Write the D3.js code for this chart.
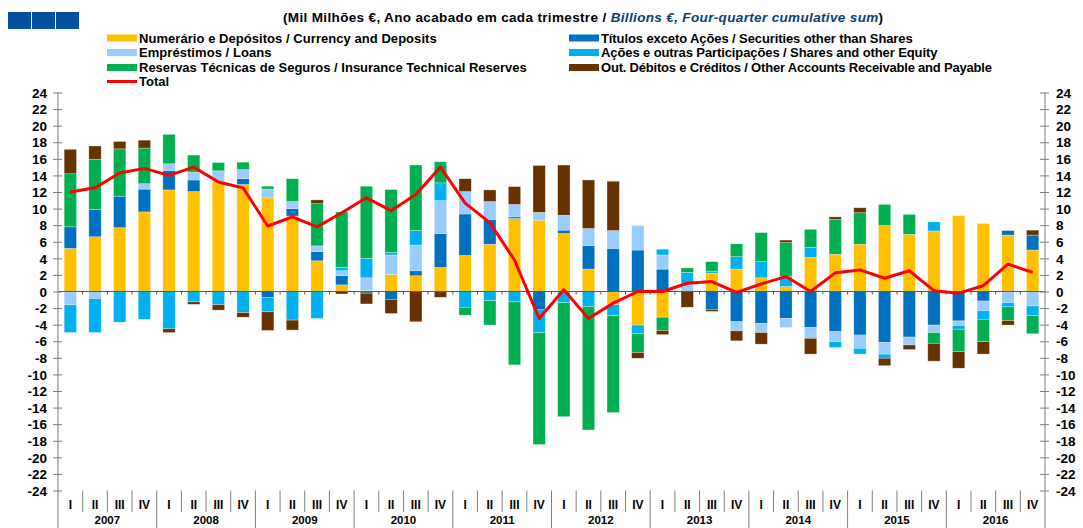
<!DOCTYPE html>
<html>
<head>
<meta charset="utf-8">
<script src="https://cdn.jsdelivr.net/npm/d3@7"></script>
<style>
    body { margin: 0; background: #fff; }
    svg { display: block; font-family: 'Liberation Sans', Arial, sans-serif; font-weight: bold; }
</style>
</head>
<body>
<div id="chart"></div>
<script>
/*global d3*/
(function () {
    'use strict';

    // data, billions of euro, four-quarter cumulative sum
    var years = ['2007', '2008', '2009', '2010', '2011', '2012', '2013', '2014', '2015', '2016'],
        quarterNames = ['I', 'II', 'III', 'IV'],

        currency = [5.2, 6.6, 7.7, 9.6, 12.25, 12.05, 13.25, 12.9, 11.3, 9.1, 3.7, 0.8,
            0.15, 2.05, 1.9, 2.9, 4.35, 5.7, 8.8, 8.6, 7.0, 2.7, -1.6, -4.05,
            -3.1, 0, 2.2, 2.7, 1.65, 0.6, 4.1, 4.5, 5.7, 7.95, 6.9, 7.3, 9.15, 8.2, 6.8, 5.0],
        securities = [2.6, 3.3, 3.8, 2.75, 2.35, 1.4, 0, 0.7, -0.7, 0.9, 1.1, 1.1,
            -0.2, -0.95, 0.6, 4.1, 5.0, 3.0, 0.2, -2.2, 0.4, 2.85, 5.2, 5.0,
            2.7, 0, -2.15, -3.65, -3.85, -3.25, -4.35, -4.85, -5.25, -6.15, -5.5, -4.05, -3.55, -1.15, 0.55, 1.8],
        loans = [-1.6, -0.85, 0, 0.65, 0.8, 0.95, 1.3, 1.1, 1.05, 0.85, 0.7, 0.6,
            1.5, 2.35, 3.1, 3.95, 2.7, 2.15, 1.5, 0.95, 1.8, 2.05, 2.15, 2.95,
            1.7, 1.0, 0, -1.1, -1.1, -1.1, -1.3, -1.2, -1.6, -1.4, -0.95, -0.9, -0.55, -1.15, -1.35, -1.75],
        shares = [-3.35, -4.1, -3.7, -3.35, -4.5, -1.25, -1.6, -2.55, -1.75, -3.45, -3.25, 0.4,
            2.35, 0.3, 1.75, 2.15, -1.9, -1.1, -1.25, -2.75, -1.35, -1.8, -1.3, -1.05,
            0.7, 1.3, 0.25, 1.5, 1.95, 1.2, 1.2, -0.7, -0.7, -0.5, 0, 1.1, -0.45, -1.05, -0.5, -1.15],
        insurance = [6.4, 6.05, 5.7, 4.3, 3.55, 2.05, 1.0, 0.9, 0.35, 2.75, 5.1, 6.7,
            8.7, 7.6, 7.9, 2.55, -0.95, -2.95, -7.6, -13.5, -13.75, -14.9, -11.7, -2.25,
            -1.6, 0.55, 1.15, 1.55, 3.5, 4.1, 2.2, 4.2, 3.8, 2.55, 2.4, -1.3, -2.7, -2.7, -1.65, -2.2],
        otherAccounts = [2.95, 1.6, 0.9, 0.95, -0.45, -0.3, -0.65, -0.55, -2.25, -1.2, 0.45, -0.3,
            -1.3, -1.7, -3.65, -0.7, 1.55, 1.4, 2.15, 5.65, 6.05, 5.85, 5.95, -0.7,
            -0.5, -1.9, -0.25, -1.2, -1.4, 0.3, -1.9, 0.3, 0.6, -0.9, -0.55, -2.15, -2.0, -1.5, -0.55, 0.6],
        total = [12.0, 12.5, 14.3, 14.85, 14.0, 15.0, 13.2, 12.5, 7.9, 9.0, 7.8, 9.5,
            11.3, 9.75, 11.7, 15.0, 10.65, 8.3, 3.8, -3.25, 0.2, -3.25, -1.4, 0.0,
            0.0, 1.0, 1.2, -0.1, 0.9, 1.8, 0.0, 2.25, 2.6, 1.6, 2.5, 0.1, -0.2, 0.7, 3.3, 2.3],
        yTicks = d3.range(-24, 25, 2),

        seriesInfo = [
            {key: 'currency', values: currency, color: '#FFC000', label: 'Numerário e Depósitos / Currency and Deposits'},
            {key: 'securities', values: securities, color: '#0070C0', label: 'Títulos exceto Ações / Securities other than Shares'},
            {key: 'loans', values: loans, color: '#99CCFF', label: 'Empréstimos / Loans'},
            {key: 'shares', values: shares, color: '#00B0F0', label: 'Ações e outras Participações / Shares and other Equity'},
            {key: 'insurance', values: insurance, color: '#00B050', label: 'Reservas Técnicas de Seguros / Insurance Technical Reserves'},
            {key: 'other', values: otherAccounts, color: '#663300', label: 'Out. Débitos e Créditos / Other Accounts Receivable and Payable'}
        ],

        width = 1083,
        height = 528,
        left = 58,
        right = 1045,
        top = 92.5,
        bottom = 490.5,
        axisColor = '#7f7f7f',

        quarters = [],
        rows,
        stack,
        stacked,
        x,
        y,
        svg,
        legendItems,
        title;

    years.forEach(function (yr) {
        quarterNames.forEach(function (q) {
            quarters.push(yr + ' ' + q);
        });
    });

    rows = quarters.map(function (q, i) {
        var row = {quarter: q};
        seriesInfo.forEach(function (s) {
            row[s.key] = s.values[i];
        });
        return row;
    });

    stack = d3.stack()
        .keys(seriesInfo.map(function (s) { return s.key; }))
        .order(d3.stackOrderNone)
        .offset(d3.stackOffsetDiverging);
    stacked = stack(rows);

    x = d3.scaleBand()
        .domain(quarters)
        .range([left, right])
        .paddingInner(0.5)
        .paddingOuter(0.25);

    y = d3.scaleLinear()
        .domain([-24, 24])
        .range([bottom, top]);

    svg = d3.select('#chart')
        .append('svg')
        .attr('width', width)
        .attr('height', height);

    // logo squares
    svg.selectAll('rect.logo')
        .data([0, 1, 2])
        .enter()
        .append('rect')
        .attr('class', 'logo')
        .attr('x', function (d) { return 8 + d * 24; })
        .attr('y', 12)
        .attr('width', 23)
        .attr('height', 17)
        .style('fill', '#00529C');

    // title
    title = svg.append('text')
        .attr('x', 283)
        .attr('y', 22)
        .style('font-size', '13.5px')
        .style('letter-spacing', '0.35px');
    title.append('tspan')
        .text('(Mil Milhões €, Ano acabado em cada trimestre / ');
    title.append('tspan')
        .style('font-style', 'italic')
        .style('fill', '#0b3d78')
        .text('Billions  €, Four-quarter cumulative sum');
    title.append('tspan')
        .text(')');

    // legend
    legendItems = [
        {s: seriesInfo[0], x: 107, y: 38, ls: '0.05px'},
        {s: seriesInfo[2], x: 107, y: 52.5, ls: '0.05px'},
        {s: seriesInfo[4], x: 107, y: 67.5, ls: '0px'},
        {s: seriesInfo[1], x: 569, y: 38, ls: '-0.1px'},
        {s: seriesInfo[3], x: 569, y: 52.5, ls: '-0.1px'},
        {s: seriesInfo[5], x: 569, y: 67.5, ls: '-0.2px'}
    ];
    legendItems.forEach(function (item) {
        svg.append('rect')
            .attr('x', item.x)
            .attr('y', item.y - 3.5)
            .attr('width', 30)
            .attr('height', 7)
            .style('fill', item.s.color);
        svg.append('text')
            .attr('x', item.x + 32)
            .attr('y', item.y + 4.5)
            .style('font-size', '13px')
            .style('letter-spacing', item.ls)
            .text(item.s.label);
    });
    svg.append('line')
        .attr('x1', 107)
        .attr('x2', 137)
        .attr('y1', 81.5)
        .attr('y2', 81.5)
        .style('stroke', '#FF0000')
        .style('stroke-width', '3px');
    svg.append('text')
        .attr('x', 139)
        .attr('y', 86)
        .style('font-size', '13px')
        .text('Total');

    // bars
    svg.append('g')
        .selectAll('g')
        .data(stacked)
        .enter()
        .append('g')
        .style('fill', function (d, i) { return seriesInfo[i].color; })
        .selectAll('rect')
        .data(function (d) { return d; })
        .enter()
        .append('rect')
        .attr('x', function (d) { return x(d.data.quarter); })
        .attr('width', x.bandwidth())
        .attr('y', function (d) { return y(d[1]); })
        .attr('height', function (d) { return Math.abs(y(d[0]) - y(d[1])); })
        .style('stroke', '#ffffff')
        .style('stroke-opacity', 0.5)
        .style('stroke-width', '0.6px');

    // zero line with quarter ticks
    svg.append('line')
        .attr('x1', left)
        .attr('x2', right)
        .attr('y1', y(0))
        .attr('y2', y(0))
        .style('stroke', '#595959')
        .style('stroke-width', '1px');
    svg.append('g')
        .selectAll('line')
        .data(d3.range(1, 40))
        .enter()
        .append('line')
        .attr('x1', function (k) { return left + k * x.step(); })
        .attr('x2', function (k) { return left + k * x.step(); })
        .attr('y1', y(0))
        .attr('y2', y(0) + 3)
        .style('stroke', '#595959');

    // total line
    svg.append('path')
        .datum(total)
        .attr('d', d3.line()
            .x(function (d, i) { return x(quarters[i]) + x.bandwidth() / 2; })
            .y(function (d) { return y(d); }))
        .style('fill', 'none')
        .style('stroke', '#FF0000')
        .style('stroke-width', '3px')
        .style('stroke-linejoin', 'round');

    // value axes
    function styleAxis(g, inner, outer, textX, anchor) {
        g.select('.domain').remove();
        g.selectAll('.tick line')
            .attr('x1', inner)
            .attr('x2', outer)
            .style('stroke', axisColor);
        g.selectAll('.tick text')
            .attr('x', textX)
            .attr('dy', '0.35em')
            .style('text-anchor', anchor)
            .style('font-size', '13.5px')
            .style('font-family', "'Liberation Sans', Arial, sans-serif")
            .style('font-weight', 'bold')
            .style('fill', '#000');
    }

    svg.append('g')
        .attr('transform', 'translate(' + left + ',0)')
        .call(d3.axisLeft(y).tickValues(yTicks).tickFormat(function (d) { return String(d); }))
        .call(styleAxis, -5, 4, -11, 'end');

    svg.append('g')
        .attr('transform', 'translate(' + right + ',0)')
        .call(d3.axisRight(y).tickValues(yTicks).tickFormat(function (d) { return String(d); }))
        .call(styleAxis, -5, 4, 11, 'start');

    svg.append('line')
        .attr('x1', left).attr('x2', left)
        .attr('y1', top).attr('y2', height)
        .style('stroke', axisColor);
    svg.append('line')
        .attr('x1', right).attr('x2', right)
        .attr('y1', top).attr('y2', height)
        .style('stroke', axisColor);

    // category axis
    svg.append('g')
        .selectAll('line')
        .data(d3.range(1, 40))
        .enter()
        .append('line')
        .attr('x1', function (k) { return left + k * x.step(); })
        .attr('x2', function (k) { return left + k * x.step(); })
        .attr('y1', bottom)
        .attr('y2', function (k) { return k % 4 === 0 ? height : 512; })
        .style('stroke', axisColor);

    svg.append('g')
        .selectAll('text')
        .data(quarters)
        .enter()
        .append('text')
        .attr('x', function (d) { return x(d) + x.bandwidth() / 2; })
        .attr('y', 509)
        .style('text-anchor', 'middle')
        .style('font-size', '12px')
        .text(function (d) { return d.split(' ')[1]; });

    svg.append('g')
        .selectAll('text')
        .data(years)
        .enter()
        .append('text')
        .attr('x', function (d, i) { return left + (i * 4 + 2) * x.step(); })
        .attr('y', 524)
        .style('text-anchor', 'middle')
        .style('font-size', '11.5px')
        .text(function (d) { return d; });

}());
</script>
</body>
</html>
